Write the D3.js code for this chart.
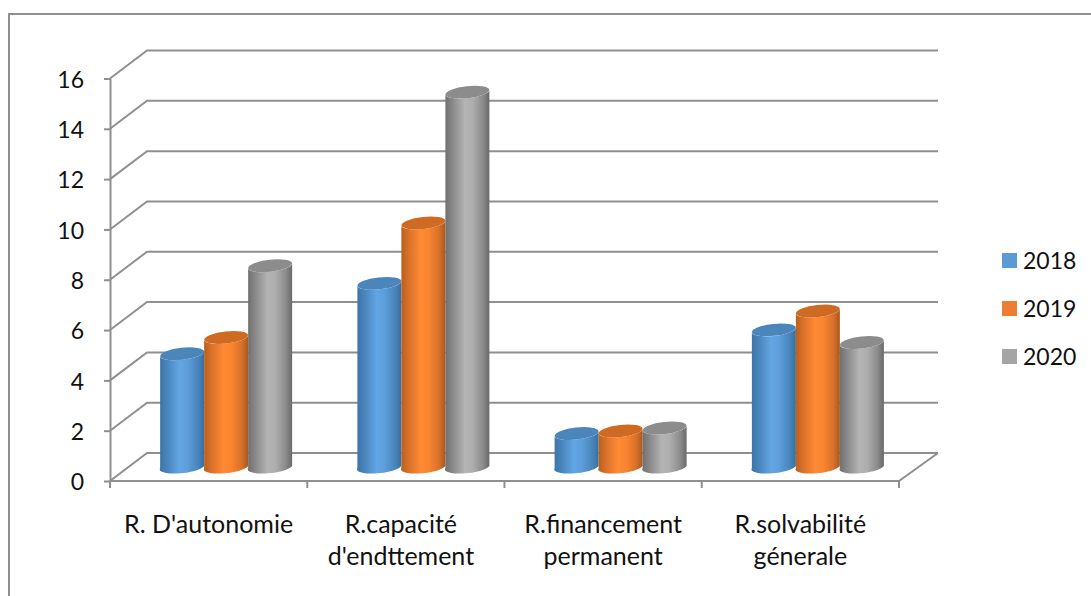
<!DOCTYPE html>
<html>
<head>
<meta charset="utf-8">
<script src="https://cdn.jsdelivr.net/npm/d3@7"></script>
<style>
  html, body { margin: 0; padding: 0; background: #fff; }
  svg { display: block; }
  text { font-family: Lato, "Open Sans", sans-serif; fill: #111; }
</style>
</head>
<body>
<svg id="chart" width="1091" height="596"></svg>
<script>
// Financial ratios per category and year
const categories = ["R. D'autonomie", "R.capacité\nd'endttement", "R.financement\npermanent", "R.solvabilité\ngénerale"];
const years = ["2018", "2019", "2020"];
const values2018 = [4.5, 7.3, 1.33, 5.45];
const values2019 = [5.15, 9.7, 1.43, 6.2];
const values2020 = [8.0, 14.9, 1.55, 4.95];
const yTicks = [0, 2, 4, 6, 8, 10, 12, 14, 16];

const seriesValues = [values2018, values2019, values2020];
const seriesColors = ["#5b9bd5", "#ed7d31", "#a5a5a5"];
const barStops = [
  ["#3a74a8", "#4a86bd", "#63a6e4", "#5d9edb", "#4a86bd", "#3a6f9f"],
  ["#b85f1e", "#d9722a", "#ff8a35", "#fa852f", "#d9722a", "#a8591f"],
  ["#6f6f6f", "#8a8a8a", "#b4b4b4", "#aeaeae", "#8c8c8c", "#6a6a6a"]
];
const capColors = ["#4a86ba", "#cf6a22", "#8c8c8c"];

const svg = d3.select("#chart");
const gridColor = "#8f8f8f";

// Oblique projection: the back wall sits up and to the right of the front plane
const depth = { x: 37, y: -28 };
const x = d3.scaleBand().domain(categories).range([110, 899]);
const y = d3.scaleLinear().domain([0, 16]).range([481, 78.5]);
const backRight = 938;

// Frame around the chart area (open at right and bottom)
svg.append("path")
  .attr("d", d3.line()([[1091, 14], [9, 14], [9, 596]]))
  .attr("fill", "none").attr("stroke", gridColor).attr("stroke-width", 2);

// Floor edge on the right
svg.append("path")
  .attr("d", d3.line()([[x.range()[1], y(0)], [backRight, y(0) + depth.y]]))
  .attr("fill", "none").attr("stroke", gridColor).attr("stroke-width", 2);

// Gridlines: side wall diagonal, then along the back wall
svg.append("g").selectAll("path").data(yTicks).join("path")
  .attr("d", t => d3.line()([
    [x.range()[0], y(t)],
    [x.range()[0] + depth.x, y(t) + depth.y],
    [backRight, y(t) + depth.y]
  ]))
  .attr("fill", "none").attr("stroke", gridColor).attr("stroke-width", 2);

// Value axis
const yAxis = svg.append("g").attr("transform", `translate(${x.range()[0]},0)`)
  .call(d3.axisLeft(y).tickValues(yTicks).tickSize(6).tickPadding(20).tickSizeOuter(0));
yAxis.selectAll("line").attr("stroke", gridColor).attr("stroke-width", 2);
yAxis.select(".domain").attr("stroke", gridColor).attr("stroke-width", 2);
yAxis.selectAll("text").style("font-size", "23px").style("font-family", "Lato, sans-serif")
  .attr("fill", "#111").attr("dy", "0.38em");

// Category axis with ticks on the band boundaries
const xAxisG = svg.append("g");
xAxisG.append("line")
  .attr("x1", x.range()[0]).attr("x2", x.range()[1])
  .attr("y1", y(0)).attr("y2", y(0))
  .attr("stroke", gridColor).attr("stroke-width", 2);
const boundaries = categories.map(c => x(c)).concat([x.range()[1]]);
xAxisG.selectAll("line.tick").data(boundaries).join("line").attr("class", "tick")
  .attr("x1", d => d).attr("x2", d => d)
  .attr("y1", y(0)).attr("y2", y(0) + 7)
  .attr("stroke", gridColor).attr("stroke-width", 2);

// Two-line labels are set slightly left of their band centre, single lines are not
const labelGroups = xAxisG.selectAll("text.cat").data(categories).join("text").attr("class", "cat")
  .attr("text-anchor", "middle")
  .style("font-size", "25px");
labelGroups.selectAll("tspan").data((c, ci) => c.split("\n").map(line => ({ c, ci, line }))).join("tspan")
  .attr("x", d => x(d.c) + x.bandwidth() / 2 - (d.ci === 1 ? 5 : 0))
  .attr("y", (d, i) => 533 + i * 32)
  .text(d => d.line);

// Gradients giving the cylinders their rounded shading
const defs = svg.append("defs");
barStops.forEach((stops, i) => {
  const g = defs.append("linearGradient").attr("id", `cyl${i}`)
    .attr("x1", 0).attr("x2", 1).attr("y1", 0).attr("y2", 0);
  const offsets = [0, 0.18, 0.45, 0.62, 0.85, 1];
  stops.forEach((s, j) => g.append("stop").attr("offset", offsets[j]).attr("stop-color", s));
});

// Cylinders stand halfway into the depth of the floor
const barWidth = 44;
const groupWidth = barWidth * years.length;
const midX = depth.x / 2 - 1;
const midY = depth.y / 2;
const tilt = 2.4;
const ry = 6;
const rx = barWidth / 2;
const angle = -Math.atan2(tilt, rx) * 180 / Math.PI;

const bars = svg.append("g");
years.forEach((year, s) => {
  seriesValues[s].forEach((v, ci) => {
    const c = categories[ci];
    const x0 = x(c) + x.bandwidth() / 2 - groupWidth / 2 + midX + s * barWidth;
    const x1 = x0 + barWidth;
    const yTop = y(v) + midY;
    const yBase = y(0) + midY;
    const body = `M${x0},${yTop + tilt} L${x0},${yBase + 1} ` +
      `A${rx},${ry} ${angle} 0 0 ${x1},${yBase - 1} L${x1},${yTop - tilt} ` +
      `A${rx},${ry} ${angle} 0 1 ${x0},${yTop + tilt} Z`;
    const g = bars.append("g");
    g.append("path").attr("d", body).attr("fill", `url(#cyl${s})`);
    g.append("ellipse")
      .attr("cx", (x0 + x1) / 2).attr("cy", yTop)
      .attr("rx", rx).attr("ry", ry)
      .attr("transform", `rotate(${angle} ${(x0 + x1) / 2} ${yTop})`)
      .attr("fill", capColors[s]);
  });
});

// Legend
const legend = svg.append("g").selectAll("g").data(years).join("g")
  .attr("transform", (d, i) => `translate(1002,${253 + i * 48})`);
legend.append("rect").attr("width", 15).attr("height", 15).attr("fill", (d, i) => seriesColors[i]);
legend.append("text").attr("x", 21).attr("y", 16).style("font-size", "23px").text(d => d);
</script>
</body>
</html>
